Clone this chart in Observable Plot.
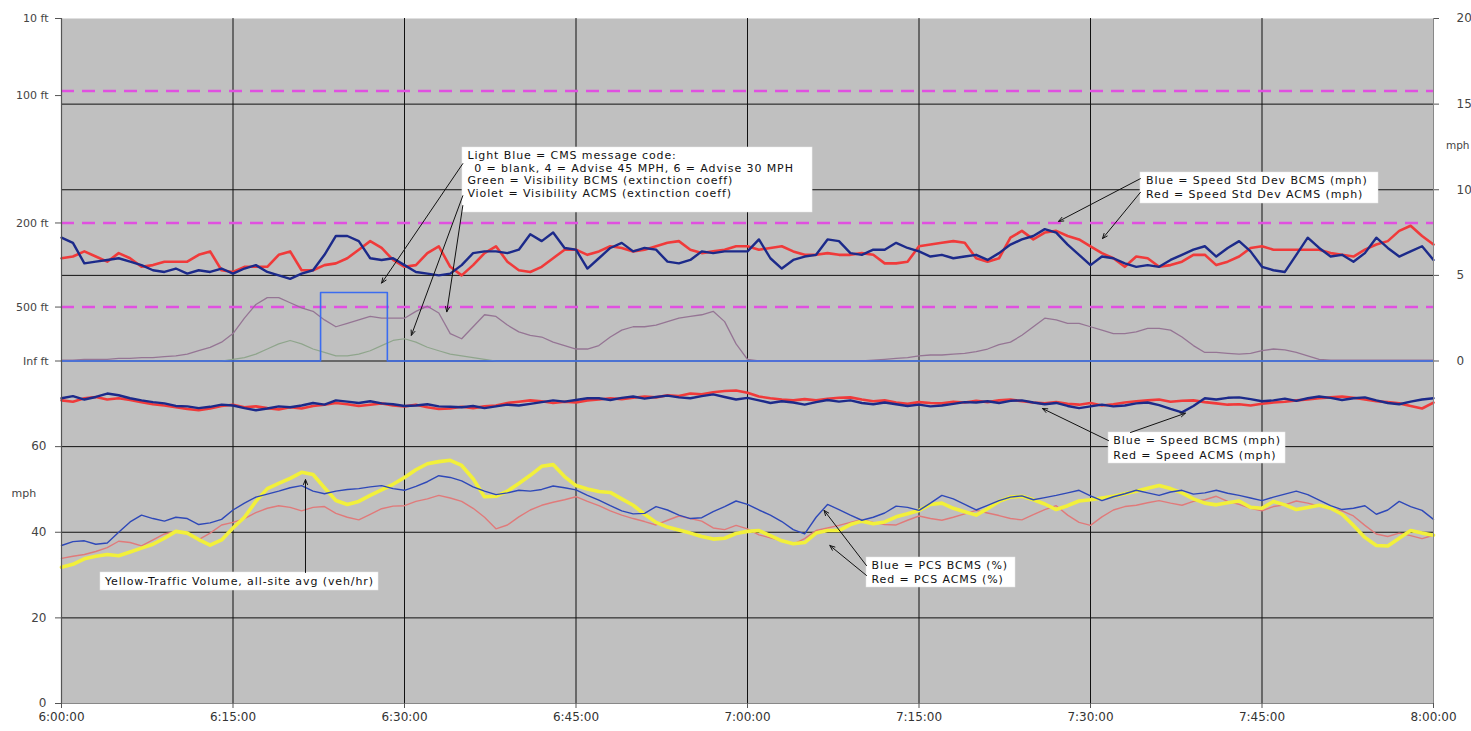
<!DOCTYPE html>
<html><head><meta charset="utf-8">
<script src="https://cdn.jsdelivr.net/npm/d3@7"></script>
<script src="https://cdn.jsdelivr.net/npm/@observablehq/plot@0.6"></script>
<style>
body{margin:0;background:#fff;}
#chart svg{display:block;}
</style>
</head><body><div id="chart"></div>
<script>
// ---------- DATA (minute offsets after 6:00:00) ----------
const minutes = d3.range(0, 121);

// Speed standard deviation (mph, right axis)
const stdDevBCMS = [7.2,6.9,5.7,5.8,5.9,6.0,5.8,5.6,5.3,5.2,5.4,5.1,5.3,5.2,5.4,5.1,5.4,5.6,5.2,5.0,4.8,5.1,5.3,6.2,7.3,7.3,7.0,6.0,5.9,6.0,5.6,5.2,5.1,5.0,5.1,5.6,6.3,6.4,6.4,6.3,6.5,7.4,7.0,7.5,6.6,6.5,5.4,6.0,6.6,6.9,6.4,6.6,6.5,5.8,5.7,5.9,6.4,6.3,6.4,6.4,6.4,7.1,6.0,5.4,5.9,6.1,6.2,7.1,7.0,6.3,6.2,6.5,6.5,6.9,6.6,6.4,6.1,6.2,6.0,6.1,6.2,5.9,6.3,6.8,7.1,7.3,7.7,7.5,6.8,6.2,5.6,6.1,6.0,5.7,5.5,5.6,5.5,5.9,6.2,6.5,6.7,6.1,6.6,7.0,6.4,5.5,5.3,5.2,6.2,7.2,6.6,6.1,6.2,5.8,6.3,7.2,6.6,6.1,6.4,6.7,5.9];
const stdDevACMS = [6.0,6.1,6.4,6.1,5.8,6.3,6.0,5.5,5.6,5.8,5.8,5.8,6.2,6.4,5.3,5.2,5.5,5.5,5.5,6.2,6.4,5.3,5.3,5.6,5.7,6.0,6.5,7.0,6.6,5.9,5.5,5.6,6.3,6.7,5.5,5.0,5.6,6.3,6.7,5.8,5.3,5.2,5.5,6.0,6.5,6.5,6.2,6.4,6.7,6.6,6.4,6.5,6.7,6.9,7.0,6.5,6.3,6.4,6.5,6.7,6.7,6.5,6.6,6.7,6.4,6.2,6.2,6.3,6.2,6.2,6.3,6.2,5.7,5.7,5.8,6.7,6.8,6.9,7.0,6.9,6.0,5.8,6.0,7.2,7.6,7.1,7.5,7.6,7.3,7.1,6.7,6.3,6.0,5.5,6.1,6.0,5.5,5.6,5.8,6.2,6.2,5.6,5.8,6.1,6.6,6.7,6.5,6.5,6.5,6.5,6.5,6.3,6.2,6.1,6.5,6.8,7.0,7.6,7.9,7.3,6.8];

// Visibility (extinction coefficient, right axis)
const visBCMS = [0,0,0,0,0,0,0,0,0,0,0,0,0,0,0,0.1,0.2,0.4,0.7,1.0,1.2,1.0,0.7,0.5,0.3,0.3,0.4,0.6,0.9,1.2,1.3,1.1,0.8,0.6,0.4,0.3,0.2,0.1,0,0,0,0,0,0,0,0,0,0,0,0,0,0,0,0,0,0,0,0,0,0,0,0,0,0,0,0,0,0,0,0,0,0,0,0,0,0,0,0,0,0,0,0,0,0,0,0,0,0,0,0,0,0,0,0,0,0,0,0,0,0,0,0,0,0,0,0,0,0,0,0,0,0,0,0,0,0,0,0,0,0,0];
const visACMS = [0.05,0.05,0.1,0.1,0.1,0.15,0.15,0.2,0.2,0.25,0.3,0.4,0.6,0.8,1.1,1.6,2.5,3.3,3.7,3.7,3.4,3.1,2.9,2.4,2.0,2.2,2.4,2.6,2.5,2.5,2.5,2.9,3.2,2.8,1.6,1.3,2.0,2.7,2.6,2.1,1.7,1.5,1.4,1.1,0.9,0.7,0.7,0.9,1.4,1.8,2.0,2.0,2.1,2.3,2.5,2.6,2.7,2.9,2.3,1.0,0.1,0,0,0,0,0,0,0,0,0,0,0.05,0.1,0.15,0.2,0.3,0.35,0.35,0.4,0.45,0.55,0.7,0.95,1.1,1.5,2.0,2.5,2.4,2.2,2.2,2.0,1.8,1.6,1.6,1.7,1.9,1.9,1.8,1.4,0.9,0.5,0.5,0.45,0.4,0.45,0.6,0.7,0.65,0.5,0.3,0.1,0.05,0.05,0.05,0.05,0.05,0.05,0.05,0.05,0.05,0.05];

// CMS message code (right axis), change points
const cmsTimes = [0, 22.66, 28.5, 120];
const cmsCodes = [0, 4, 0, 0];

// Speed (mph, left axis)
const speedBCMS = [71.3,71.8,71.0,71.6,72.4,72.0,71.3,70.8,70.4,70.1,69.5,69.4,69.0,69.3,69.8,69.6,69.0,68.5,68.9,69.4,69.2,69.6,70.2,69.8,70.8,70.5,70.2,70.6,70.1,69.9,69.5,69.6,69.9,69.4,69.3,69.2,69.5,69.0,69.4,69.8,69.6,70.0,70.4,70.8,70.5,70.9,71.3,71.3,70.9,71.4,71.7,71.2,71.6,71.9,71.5,71.3,71.8,72.2,71.6,71.0,71.4,70.8,70.2,70.6,70.3,69.8,70.4,70.9,70.5,70.8,70.2,69.9,70.3,69.9,69.5,69.8,69.4,69.6,70.0,70.4,70.3,70.6,70.2,70.7,70.8,70.3,69.9,70.2,69.5,69.0,69.4,69.8,69.4,69.6,70.1,70.3,69.7,68.8,68.0,69.5,71.3,71.0,71.4,71.5,71.1,70.6,70.8,71.2,70.7,71.3,71.7,71.4,70.9,71.3,71.5,70.8,70.2,69.9,70.5,71.0,71.3];
const speedACMS = [70.8,70.5,71.3,71.6,71.0,71.3,70.9,70.4,69.9,69.6,69.2,68.8,68.5,68.9,69.5,69.8,69.2,69.4,69.0,68.7,69.2,68.9,69.5,69.8,70.2,69.9,69.5,69.8,70.1,69.6,69.4,69.8,69.2,68.8,68.9,69.3,69.0,69.4,69.6,70.2,70.5,70.8,70.6,70.2,70.5,70.3,70.8,71.0,71.3,71.1,71.4,71.7,71.5,72.0,71.8,72.4,72.2,72.7,73.0,73.1,72.6,71.7,71.3,71.0,70.8,71.1,70.8,71.2,71.4,71.5,71.0,70.6,70.8,70.3,70.0,70.4,70.2,70.1,70.5,70.3,70.7,70.4,70.8,71.0,70.6,70.3,70.1,70.4,70.0,69.8,70.2,69.6,69.9,70.3,70.6,70.8,71.0,70.5,70.7,70.8,70.4,70.1,69.8,69.9,69.6,70.0,70.3,70.5,70.8,71.0,71.3,71.5,71.7,71.4,71.0,70.6,70.4,70.1,69.5,68.9,70.3];

// Percent car speeds (%) and traffic volume (left axis)
const pcsBCMS = [36.9,37.8,38.0,37.2,37.5,40.0,42.4,44.0,43.2,42.6,43.5,43.2,41.8,42.2,43.0,45.2,46.8,48.2,48.9,49.6,50.4,50.9,49.6,49.0,49.6,50.0,50.2,50.6,50.9,50.2,49.8,50.7,51.8,53.2,52.8,52.0,50.6,49.6,48.8,49.2,49.8,49.6,50.0,50.8,50.4,49.9,48.6,47.5,46.2,45.0,44.3,44.4,46.0,45.2,44.0,43.2,43.4,44.8,46.0,47.3,46.5,45.2,44.0,42.5,40.6,39.6,43.5,46.5,45.3,44.0,42.8,43.5,44.5,46.1,45.8,45.1,46.8,48.6,47.8,46.5,45.2,46.3,47.4,48.2,48.5,47.6,48.1,48.6,49.2,49.8,48.5,47.4,48.3,49.0,49.8,49.2,48.6,49.4,49.8,48.9,49.2,49.8,49.1,48.6,48.0,47.4,48.2,48.9,49.6,48.8,47.5,46.2,45.3,45.6,46.2,44.2,45.2,47.2,46.0,45.1,43.0];
const pcsACMS = [33.9,34.4,34.8,35.5,36.4,37.9,37.6,36.8,38.2,39.6,40.2,39.6,38.3,39.8,41.7,42.3,43.2,44.6,45.6,46.2,45.8,45.0,45.8,46.0,44.4,43.5,42.9,44.2,45.5,46.1,46.2,47.2,47.8,48.6,48.0,47.2,45.6,43.5,40.8,41.7,43.6,45.2,46.3,47.0,47.6,48.3,47.2,46.2,45.0,44.0,43.2,42.5,41.7,42.8,43.8,43.2,42.6,41.0,40.6,41.6,40.8,39.4,38.7,38.0,37.2,38.5,40.4,41.0,41.6,42.3,43.0,42.3,41.8,41.7,42.8,43.8,43.2,42.8,43.5,44.3,45.1,44.5,43.9,43.2,42.9,44.1,45.3,46.2,44.0,42.3,41.6,43.6,45.2,46.0,46.3,46.9,47.4,46.8,46.3,47.2,47.6,48.4,47.2,46.5,45.6,45.0,46.0,46.4,47.3,46.8,46.1,45.5,45.0,43.8,41.6,39.6,39.0,39.8,39.2,38.5,39.3];
const volume = [31.8,32.5,33.8,34.4,34.8,34.5,35.4,36.3,37.2,38.6,40.2,39.8,38.3,37.0,38.2,41.0,43.5,47.2,50.2,51.4,52.6,54.0,53.5,50.4,47.4,46.5,47.2,48.6,49.9,51.2,52.8,54.6,56.0,56.5,56.8,55.6,52.5,48.3,48.4,49.6,51.4,53.3,55.4,55.8,53.0,50.9,50.1,49.5,49.3,47.8,46.3,44.2,42.3,41.2,40.5,39.8,39.0,38.4,38.6,39.7,40.2,40.4,39.2,38.0,37.3,37.6,39.8,40.4,40.4,41.8,42.6,42.0,42.4,43.6,44.3,45.1,46.5,46.8,45.6,44.8,44.0,45.5,47.2,48.2,48.4,47.6,46.6,45.3,46.2,47.3,47.6,48.0,48.4,49.0,49.6,50.3,50.9,50.2,49.2,47.8,46.8,46.4,46.9,47.3,45.8,45.6,47.2,46.4,45.3,45.8,46.3,45.6,44.2,41.6,38.8,36.9,36.8,38.6,40.4,39.8,39.3];

// Axis ticks / labels
const timeTicks = [0, 15, 30, 45, 60, 75, 90, 105, 120];
const leftTicks = [0, 20, 40, 60];
const rightTicks = [0, 5, 10, 15, 20];
const visLabels = ["10 ft", "100 ft", "200 ft", "500 ft", "Inf ft"];
const visLabelValues = [20, 15.5, 8.06, 3.15, 0];   // extinction coefficient
const visRefValues = [15.77, 8.06, 3.15];           // dashed reference levels

// ---------- helpers ----------
const t0 = Date.UTC(2000, 0, 1, 6, 0, 0);
const T = m => new Date(t0 + m * 60000);
const R = v => 80 + 4 * v;   // right-axis value -> shared y scale

const series = (vals) => minutes.map((m, i) => ({time: T(m), v: vals[i]}));
const rightSeries = (vals) => minutes.map((m, i) => ({time: T(m), v: R(vals[i])}));
const cms = cmsTimes.map((m, i) => ({time: T(m), v: R(cmsCodes[i])}));

// ---------- annotations (data coordinates: minutes, y value) ----------
const boxes = [
  {m1: 35.07, m2: 65.69, y1: 114.69, y2: 129.87},
  {m1: 94.37, m2: 115.19, y1: 116.79, y2: 124.03},
  {m1: 91.58, m2: 107.06, y1: 56.06, y2: 63.30},
  {m1: 70.41, m2: 83.44, y1: 27.10, y2: 34.10},
  {m1: 3.41, m2: 27.73, y1: 26.39, y2: 30.60}
];
const notes = [
  {m: 35.5, y: 128.0, text: "Light Blue = CMS message code:"},
  {m: 36.1, y: 124.96, text: "0 = blank, 4 = Advise 45 MPH, 6 = Advise 30 MPH"},
  {m: 35.5, y: 122.1, text: "Green = Visibility BCMS (extinction coeff)"},
  {m: 35.5, y: 119.1, text: "Violet = Visibility ACMS (extinction coeff)"},
  {m: 94.85, y: 122.2, text: "Blue = Speed Std Dev BCMS (mph)"},
  {m: 94.85, y: 118.8, text: "Red = Speed Std Dev ACMS (mph)"},
  {m: 92.0, y: 61.4, text: "Blue = Speed BCMS (mph)"},
  {m: 92.0, y: 57.9, text: "Red = Speed ACMS (mph)"},
  {m: 70.85, y: 32.2, text: "Blue = PCS BCMS (%)"},
  {m: 70.85, y: 28.9, text: "Red = PCS ACMS (%)"},
  {m: 3.8, y: 28.5, text: "Yellow-Traffic Volume, all-site avg (veh/hr)"}
];
const arrows = [
  {m1: 35.1, y1: 126.1, m2: 28.0, y2: 98.2},
  {m1: 35.1, y1: 118.6, m2: 30.6, y2: 86.0},
  {m1: 35.1, y1: 116.3, m2: 33.7, y2: 91.5},
  {m1: 94.37, y1: 122.6, m2: 87.2, y2: 112.6},
  {m1: 94.37, y1: 119.4, m2: 91.05, y2: 108.6},
  {m1: 91.58, y1: 61.4, m2: 85.8, y2: 68.9},
  {m1: 93.5, y1: 63.3, m2: 98.3, y2: 67.8},
  {m1: 70.41, y1: 32.2, m2: 66.7, y2: 45.1},
  {m1: 70.41, y1: 29.9, m2: 67.2, y2: 36.9},
  {m1: 21.34, y1: 30.6, m2: 21.34, y2: 52.3}
];

const font = "DejaVu Sans, Liberation Sans, Arial, sans-serif";
const gridTimes = [15, 30, 45, 60, 75, 90, 105].map(T);

const chart = Plot.plot({
  width: 1471,
  height: 731,
  marginLeft: 61,
  marginRight: 38,
  marginTop: 18,
  marginBottom: 28,
  style: {fontFamily: font, background: "#fff"},
  x: {type: "utc", domain: [T(0), T(120)]},
  y: {domain: [0, 160]},
  marks: [
    Plot.frame({fill: "#c0c0c0", stroke: null}),
    Plot.ruleY([20, 40, 60, 80, 100, 120, 140], {stroke: "#111", strokeWidth: 1}),
    Plot.ruleX(gridTimes, {stroke: "#111", strokeWidth: 1}),
    Plot.ruleY(visRefValues.map(R), {stroke: "#e050e0", strokeWidth: 2.5, strokeDasharray: "13,8"}),
    // visibility
    Plot.line(rightSeries(visBCMS), {x: "time", y: "v", stroke: "#8fa58c", strokeWidth: 1.2}),
    Plot.line(rightSeries(visACMS), {x: "time", y: "v", stroke: "#957594", strokeWidth: 1.3}),
    // CMS code
    Plot.line(cms, {x: "time", y: "v", curve: "step-after", stroke: "#3b6cf0", strokeWidth: 1.6}),
    // speed std dev
    Plot.line(rightSeries(stdDevACMS), {x: "time", y: "v", stroke: "#f03a3a", strokeWidth: 2.6}),
    Plot.line(rightSeries(stdDevBCMS), {x: "time", y: "v", stroke: "#1c2a8a", strokeWidth: 2.4}),
    // speed
    Plot.line(series(speedACMS), {x: "time", y: "v", stroke: "#f03a3a", strokeWidth: 2.6}),
    Plot.line(series(speedBCMS), {x: "time", y: "v", stroke: "#1c2a8a", strokeWidth: 2.4}),
    // PCS + volume
    Plot.line(series(pcsACMS), {x: "time", y: "v", stroke: "#e07a7a", strokeWidth: 1.4}),
    Plot.line(series(volume), {x: "time", y: "v", stroke: "#f2f03a", strokeWidth: 3.6}),
    Plot.line(series(pcsBCMS), {x: "time", y: "v", stroke: "#2e48b8", strokeWidth: 1.4}),
    // annotations
    Plot.rect(boxes, {x1: d => T(d.m1), x2: d => T(d.m2), y1: "y1", y2: "y2", fill: "#fff", stroke: "#e8e8e8", strokeWidth: 0.5}),
    Plot.text(notes, {x: d => T(d.m), y: "y", text: "text", textAnchor: "start", fontSize: 11, fill: "#111"}),
    Plot.arrow(arrows, {x1: d => T(d.m1), y1: "y1", x2: d => T(d.m2), y2: "y2", stroke: "#111", strokeWidth: 1, headLength: 8, headAngle: 45}),
    // frame edges
    Plot.ruleX([T(0)], {stroke: "#555", strokeWidth: 1.2}),
    Plot.ruleX([T(120)], {stroke: "#888", strokeWidth: 1}),
    Plot.ruleY([0], {stroke: "#888", strokeWidth: 1}),
    // axes
    Plot.axisX(timeTicks.map(T), {tickFormat: d3.utcFormat("%-H:%M:%S"), tickSize: 5, tickPadding: 4, fontSize: 12, fill: "#333", stroke: "#555", label: null}),
    Plot.axisY(leftTicks, {anchor: "left", tickSize: 6, tickPadding: 9, fontSize: 12, fill: "#444", stroke: "#555", label: null}),
    Plot.axisY(visLabelValues.map(R), {anchor: "left", tickSize: 6, tickPadding: 7, fontSize: 11, fill: "#444", stroke: "#555", label: null,
      tickFormat: d => visLabels[visLabelValues.map(R).indexOf(d)]}),
    Plot.axisY(rightTicks.map(R), {anchor: "right", tickSize: 5, tickPadding: 18, fontSize: 12, fill: "#444", stroke: "#555", label: null,
      tickFormat: d => String((d - 80) / 4)}),
    Plot.text(["mph"], {frameAnchor: "left", y: 49, dx: -50, fontSize: 11, fill: "#444"}),
    Plot.text(["mph"], {frameAnchor: "right", y: 130.3, dx: 36, fontSize: 10.5, fill: "#444"})
  ]
});
const noteSet = new Set(notes.map(d => d.text));
d3.select(chart).selectAll("text").filter(function() { return noteSet.has(this.textContent); })
  .attr("letter-spacing", "0.9");
document.getElementById("chart").appendChild(chart);
</script>
</body></html>
